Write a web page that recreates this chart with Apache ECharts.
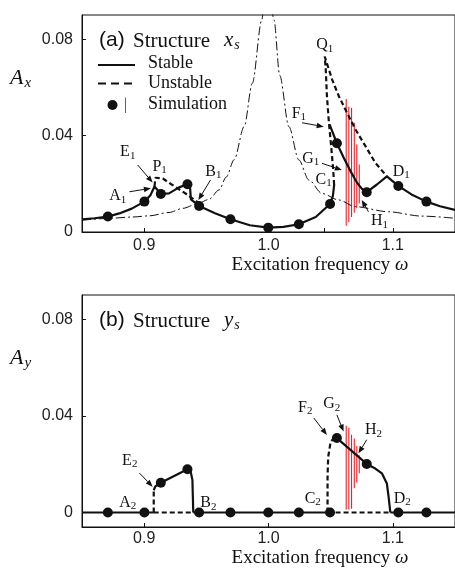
<!DOCTYPE html>
<html>
<head>
<meta charset="utf-8">
<style>
  html, body { margin: 0; padding: 0; background: #fff; }
  #echarts { width: 455px; height: 568px; }
</style>
<script src="https://cdn.jsdelivr.net/npm/echarts@6/dist/echarts.min.js"></script>
</head>
<body>
<div id="echarts"></div>
<script>
// ---- ticks ----
var xTicks = [0.9, 1.0, 1.1]
var xTicksTop = [0.9, 1.0, 1.0446, 1.1]
var yTicks = [0, 0.04, 0.08]

// ---- simulation dots ----
var simOmega = [0.8708, 0.9002, 0.9134, 0.9348, 0.9442, 0.9694, 0.9998, 1.0244, 1.0495, 1.055, 1.079, 1.1044, 1.127]
var simAx = [0.0064, 0.0126, 0.0158, 0.0198, 0.0108, 0.0053, 0.0018, 0.0032, 0.0116, 0.0368, 0.0165, 0.0191, 0.0126]
var simAy = [0, 0, 0.0123, 0.0179, 0, 0, 0, 0, 0, 0.0308, 0.0201, 0, 0]

// ---- simulation red bars (min / max of the response) ----
var redOmega = [1.0625, 1.0646, 1.0668, 1.069, 1.071, 1.073]
var redAxLow = [0.0026, 0.0040, 0.0062, 0.0080, 0.0098, 0.0118]
var redAxHigh = [0.0552, 0.0519, 0.0515, 0.0453, 0.0363, 0.0280]
var redAyLow = [0.0012, 0.0012, 0.0016, 0.0100, 0.0124, 0.0162]
var redAyHigh = [0.0359, 0.0351, 0.0322, 0.0306, 0.0275, 0.0237]

// ---- structure x_s curves [omega, A] ----
var axStableA = [[0.85,0.0052],[0.86,0.0057],[0.8708,0.0064],[0.88,0.0077],[0.89,0.0097],[0.9002,0.0126],[0.905,0.0152],[0.9083,0.0189],[0.9134,0.0158],[0.92,0.016],[0.928,0.0185],[0.9348,0.0198],[0.9368,0.0193],[0.9376,0.0135],[0.9442,0.0108],[0.957,0.0078],[0.9694,0.0053],[0.985,0.0028],[0.9998,0.0018],[1.012,0.0021],[1.0244,0.0032],[1.038,0.0062],[1.0495,0.0116],[1.0518,0.015],[1.0528,0.0195]]
var axStableB = [[1.0491,0.0446],[1.055,0.0368],[1.0606,0.0307],[1.066,0.0252],[1.0712,0.0204],[1.075,0.018],[1.079,0.0165],[1.0872,0.0197],[1.0952,0.0231],[1.1044,0.0191],[1.115,0.0156],[1.127,0.0126],[1.138,0.0107],[1.15,0.0092]]
var axUnstableP = [[0.9083,0.0189],[0.9091,0.0225],[0.915,0.0222],[0.9215,0.0199],[0.932,0.0164],[0.9436,0.0122]]
var axUnstableQ = [[1.0528,0.0195],[1.052,0.026],[1.0504,0.0356],[1.0486,0.0453],[1.047,0.0563],[1.046,0.068],[1.0452,0.0728],[1.0464,0.0722],[1.0512,0.0632],[1.0566,0.0563],[1.0632,0.0494],[1.07,0.0425],[1.078,0.0356],[1.0859,0.0287],[1.0952,0.0231]]
var axLinearL = [[0.85,0.0049],[0.87,0.0056],[0.89,0.0062],[0.904,0.0067],[0.92,0.0081],[0.931,0.0098],[0.942,0.0115],[0.952,0.0135],[0.9604,0.0175],[0.966,0.0228],[0.9724,0.030],[0.9804,0.0437],[0.987,0.0617],[0.9946,0.088],[0.997,0.1]]
var axLinearR = [[1.0012,0.1],[1.0044,0.088],[1.009,0.065],[1.0164,0.0437],[1.0244,0.0299],[1.0324,0.0216],[1.043,0.016],[1.0564,0.0133],[1.0698,0.0105],[1.0964,0.0084],[1.123,0.0066],[1.15,0.0057]]

// ---- structure y_s curves ----
var ayStable1 = [[0.85,0],[0.9077,0]]
var ayUnstable1 = [[0.9077,0],[0.9395,0]]
var ayStable2 = [[0.9395,0],[1.0475,0]]
var ayUnstable2 = [[1.0475,0],[1.098,0]]
var ayStable3 = [[1.098,0],[1.15,0]]
var ayUnstableE = [[0.9077,0],[0.9077,0.0092]]
var ayStableE = [[0.9077,0.0092],[0.909,0.0108],[0.9134,0.0123],[0.9348,0.0179],[0.9374,0.0169],[0.9388,0.0135],[0.9395,0]]
var ayUnstableF = [[1.0475,0],[1.0475,0.015],[1.048,0.023],[1.05,0.0293],[1.0526,0.0307]]
var ayStableF = [[1.0526,0.0307],[1.055,0.0308],[1.079,0.0201],[1.0859,0.0182],[1.0912,0.0162],[1.0952,0.012],[1.0966,0.0065],[1.098,0]]

// ---- point labels (data coords) ----
var topNotes = [
    {t: 'A', s: '1', at: [0.8788, 0.0149], from: [0.8882, 0.0167], to: [0.9054, 0.0181]},
    {t: 'E', s: '1', at: [0.8868, 0.0332], from: [0.8948, 0.0278], to: [0.9068, 0.0205]},
    {t: 'P', s: '1', at: [0.9124, 0.0272]},
    {t: 'B', s: '1', at: [0.9556, 0.0251], from: [0.9534, 0.0216], to: [0.9436, 0.0133]},
    {t: 'Q', s: '1', at: [1.0452, 0.0776]},
    {t: 'F', s: '1', at: [1.0244, 0.0492], from: [1.027, 0.0453], to: [1.0444, 0.0437]},
    {t: 'G', s: '1', at: [1.034, 0.0305], from: [1.043, 0.0285], to: [1.059, 0.0257]},
    {t: 'C', s: '1', at: [1.0444, 0.0218]},
    {t: 'H', s: '1', at: [1.0892, 0.0046], from: [1.0804, 0.0084], to: [1.075, 0.0133]},
    {t: 'D', s: '1', at: [1.1068, 0.0251]}
]
var bottomNotes = [
    {t: 'A', s: '2', at: [0.8868, 0.0042]},
    {t: 'E', s: '2', at: [0.8884, 0.0216], from: [0.8962, 0.0163], to: [0.9068, 0.0107]},
    {t: 'B', s: '2', at: [0.9516, 0.0039]},
    {t: 'C', s: '2', at: [1.0356, 0.0058]},
    {t: 'D', s: '2', at: [1.1076, 0.0058]},
    {t: 'F', s: '2', at: [1.0296, 0.0435], from: [1.0364, 0.0391], to: [1.047, 0.0321]},
    {t: 'G', s: '2', at: [1.0508, 0.0448], from: [1.055, 0.0404], to: [1.0604, 0.0335]},
    {t: 'H', s: '2', at: [1.0844, 0.0342], from: [1.079, 0.0301], to: [1.0724, 0.0245]}
]

var INK = '#111', RED = '#e8232b'
var SERIF = '"Liberation Serif", "DejaVu Serif", serif'
var SANS = '"Liberation Sans", Arial, sans-serif'

var chart = echarts.init(document.getElementById('echarts'))

var lineSeries = function (idx, data, dashed, width) {
    return {
        type: 'line', xAxisIndex: idx, yAxisIndex: idx, data: data,
        symbol: 'none', silent: true, z: 3,
        lineStyle: {color: INK, width: width || 2.2, type: dashed ? [5, 3] : 'solid', cap: 'butt'}
    }
}
var linearSeries = function (data) {
    return {
        type: 'line', xAxisIndex: 0, yAxisIndex: 0, data: data,
        symbol: 'none', silent: true, smooth: 0.3, smoothMonotone: 'x', z: 2,
        lineStyle: {color: INK, width: 1, type: [9, 3, 2, 3]}
    }
}
var dotSeries = function (idx, values) {
    return {
        type: 'scatter', xAxisIndex: idx, yAxisIndex: idx,
        data: simOmega.map(function (w, i) { return [w, values[i]] }),
        symbol: 'circle', symbolSize: 10, itemStyle: {color: INK, opacity: 1}, silent: true, z: 5
    }
}
var redSeries = function (idx, low, high) {
    return {
        type: 'custom', xAxisIndex: idx, yAxisIndex: idx, silent: true, z: 1,
        data: redOmega.map(function (w, i) { return [w, low[i], high[i]] }),
        encode: {x: 0, y: [1, 2]},
        renderItem: function (params, api) {
            var p1 = api.coord([api.value(0), api.value(1)])
            var p2 = api.coord([api.value(0), api.value(2)])
            return {type: 'line', shape: {x1: p1[0], y1: p1[1], x2: p2[0], y2: p2[1]},
                style: {stroke: RED, lineWidth: 1.1}}
        }
    }
}

var xAxisOf = function (idx, ticks) {
    return {
        gridIndex: idx, type: 'value', min: 0.85, max: 1.15,
        axisLine: {show: true, onZero: false, lineStyle: {color: INK, width: 1}},
        axisTick: {show: true, inside: true, length: 4, customValues: ticks, lineStyle: {color: INK}},
        axisLabel: {customValues: xTicks, margin: idx === 0 ? 6 : 4, color: '#222', fontFamily: SANS, fontSize: 16,
            formatter: function (v) { return v.toFixed(1) }},
        splitLine: {show: false}
    }
}
var yAxisOf = function (idx, min) {
    return {
        gridIndex: idx, type: 'value', min: min, max: 0.09,
        axisLine: {show: true, onZero: false, lineStyle: {color: INK, width: 1}},
        axisTick: {show: true, inside: true, length: 4, customValues: yTicks, lineStyle: {color: INK}},
        axisLabel: {customValues: yTicks, margin: 9, color: '#222', fontFamily: SANS, fontSize: 16,
            formatter: function (v) { return v === 0 ? '0' : v.toFixed(2) }},
        splitLine: {show: false}
    }
}

var option = {
    animation: false,
    backgroundColor: '#fff',
    grid: [
        {left: 82, top: 15, width: 375, height: 217, show: true, borderColor: INK, borderWidth: 1},
        {left: 82, top: 295, width: 375, height: 232, show: true, borderColor: INK, borderWidth: 1}
    ],
    xAxis: [xAxisOf(0, xTicksTop), xAxisOf(1, xTicks)],
    yAxis: [yAxisOf(0, 0), yAxisOf(1, -0.006)],
    series: [
        redSeries(0, redAxLow, redAxHigh),
        linearSeries(axLinearL),
        linearSeries(axLinearR),
        lineSeries(0, axStableA),
        lineSeries(0, axStableB),
        lineSeries(0, axUnstableP, true),
        lineSeries(0, axUnstableQ, true),
        dotSeries(0, simAx),

        redSeries(1, redAyLow, redAyHigh),
        lineSeries(1, ayStable1),
        lineSeries(1, ayUnstable1, true),
        lineSeries(1, ayStable2),
        lineSeries(1, ayUnstable2, true),
        lineSeries(1, ayStable3),
        lineSeries(1, ayUnstableE, true),
        lineSeries(1, ayStableE),
        lineSeries(1, ayUnstableF, true),
        lineSeries(1, ayStableF),
        dotSeries(1, simAy)
    ]
}
chart.setOption(option)

// ---- text and arrows ----
var ctx = document.createElement('canvas').getContext('2d')
var measure = function (font, s) { ctx.font = font; return ctx.measureText(s).width }

var txt = function (x, y, s, font, fill) {
    return {type: 'text', silent: true, z: 10,
        style: {x: x, y: y, text: s, font: font, fill: fill || INK, textAlign: 'left', textVerticalAlign: 'middle'}}
}
// letter with subscript, left edge at x
var subLeft = function (out, x, y, main, sub, size, subSize, italic) {
    var f1 = (italic ? 'italic ' : '') + size + 'px ' + SERIF
    var f2 = (italic ? 'italic ' : '') + subSize + 'px ' + SERIF
    var w1 = measure(f1, main)
    out.push(txt(x, y, main, f1))
    out.push(txt(x + w1 + (italic ? 1 : 0), y + size * 0.25, sub, f2))
    return w1 + measure(f2, sub)
}
var subCenter = function (out, cx, cy, main, sub, size, subSize) {
    var w = measure(size + 'px ' + SERIF, main) + measure(subSize + 'px ' + SERIF, sub)
    subLeft(out, cx - w / 2, cy, main, sub, size, subSize, false)
}
var arrow = function (out, a, b) {
    var dx = b[0] - a[0], dy = b[1] - a[1], len = Math.sqrt(dx * dx + dy * dy)
    var ux = dx / len, uy = dy / len, L = 7, W = 2.8
    var bx = b[0] - ux * L, by = b[1] - uy * L
    out.push({type: 'line', silent: true, z: 10, shape: {x1: a[0], y1: a[1], x2: bx, y2: by},
        style: {stroke: INK, lineWidth: 1}})
    out.push({type: 'polygon', silent: true, z: 10,
        shape: {points: [[b[0], b[1]], [bx - uy * W, by + ux * W], [bx + uy * W, by - ux * W]]},
        style: {fill: INK}})
}

var graphics = []
var addNotes = function (notes, gi) {
    notes.forEach(function (n) {
        var p = chart.convertToPixel({gridIndex: gi}, n.at)
        subCenter(graphics, p[0], p[1], n.t, n.s, 16, 11)
        if (n.from) {
            arrow(graphics, chart.convertToPixel({gridIndex: gi}, n.from), chart.convertToPixel({gridIndex: gi}, n.to))
        }
    })
}
addNotes(topNotes, 0)
addNotes(bottomNotes, 1)

// panel titles and axis names
var panels = [{tag: '(a)', v: 'x', yName: 'x', dy: 0, xNameY: 265}, {tag: '(b)', v: 'y', yName: 'y', dy: 280, xNameY: 558}]
panels.forEach(function (p) {
    graphics.push(txt(99, 40 + p.dy, p.tag, '21px ' + SANS))
    graphics.push(txt(133, 41 + p.dy, 'Structure', '21px ' + SERIF))
    subLeft(graphics, 224, 40 + p.dy, p.v, 's', 21, 14, true)
    subLeft(graphics, 10, 78 + p.dy, 'A', p.yName, 22, 15, true)

    var f1 = '19px ' + SERIF, f2 = 'italic 19px ' + SERIF
    var s1 = 'Excitation frequency ', w1 = measure(f1, s1), w2 = measure(f2, 'ω')
    var x0 = 320 - (w1 + w2) / 2
    graphics.push(txt(x0, p.xNameY, s1, f1))
    graphics.push(txt(x0 + w1, p.xNameY, 'ω', f2))
})

// legend
graphics.push({type: 'line', silent: true, shape: {x1: 98, y1: 65, x2: 135, y2: 65}, style: {stroke: INK, lineWidth: 2.2}})
graphics.push({type: 'line', silent: true, shape: {x1: 98, y1: 83.5, x2: 135, y2: 83.5}, style: {stroke: INK, lineWidth: 2.2, lineDash: [8, 5]}})
graphics.push({type: 'circle', silent: true, shape: {cx: 112.5, cy: 105, r: 5}, style: {fill: INK}})
graphics.push({type: 'line', silent: true, shape: {x1: 125.5, y1: 97.5, x2: 125.5, y2: 113}, style: {stroke: RED, lineWidth: 1}})
graphics.push(txt(148, 63, 'Stable', '18px ' + SERIF))
graphics.push(txt(148, 83, 'Unstable', '18px ' + SERIF))
graphics.push(txt(148, 104, 'Simulation', '18px ' + SERIF))

chart.setOption({graphic: {elements: graphics}})
</script>
</body>
</html>
